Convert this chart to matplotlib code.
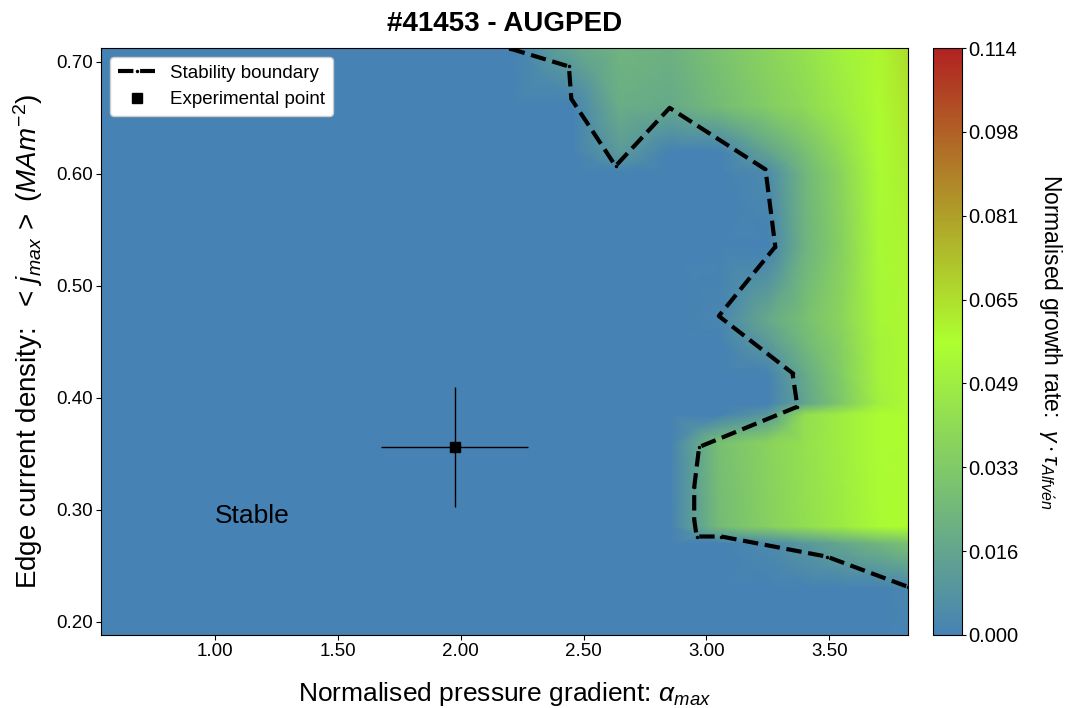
import numpy as np
import matplotlib
matplotlib.use('Agg')
import matplotlib.pyplot as plt
from matplotlib.colors import LinearSegmentedColormap, Normalize
from matplotlib.ticker import FormatStrFormatter

plt.rcParams['font.family'] = ['Liberation Sans', 'DejaVu Sans']
plt.rcParams['mathtext.fontset'] = 'custom'
plt.rcParams['mathtext.rm'] = 'Liberation Sans'
plt.rcParams['mathtext.it'] = 'Liberation Sans:italic'
plt.rcParams['mathtext.bf'] = 'Liberation Sans:bold'

# scan grid: normalised pressure gradient (alpha) and edge current density (j)
alpha_grid = [0.50, 2.20, 2.45, 2.65, 2.85, 3.05, 3.25, 3.40, 3.55, 3.70, 3.85]
j_grid = [0.18, 0.23, 0.27, 0.285, 0.36, 0.385, 0.395, 0.42, 0.45, 0.47, 0.535,
          0.60, 0.62, 0.66, 0.72]

# growth rate gamma * tau_A on the grid (rows = j, cols = alpha)
gamma_grid = [
    [0, 0, 0, 0, 0, 0, 0, 0, 0, 0, 0],
    [0, 0, 0, 0, 0, 0, 0, 0, 0, 0, 0.004],
    [0, 0, 0, 0, 0, 0, 0.004, 0.010, 0.017, 0.024, 0.030],
    [0, 0, 0, 0, 0, 0.026, 0.036, 0.042, 0.048, 0.055, 0.058],
    [0, 0, 0, 0, 0, 0.028, 0.037, 0.043, 0.049, 0.056, 0.058],
    [0, 0, 0, 0, 0, 0, 0.010, 0.042, 0.049, 0.056, 0.058],
    [0, 0, 0, 0, 0, 0, 0, 0.016, 0.032, 0.050, 0.057],
    [0, 0, 0, 0, 0, 0, 0, 0.018, 0.034, 0.052, 0.058],
    [0, 0, 0, 0, 0, 0, 0.012, 0.025, 0.036, 0.052, 0.058],
    [0, 0, 0, 0, 0, 0.002, 0.018, 0.028, 0.038, 0.053, 0.059],
    [0, 0, 0, 0, 0, 0, 0, 0.022, 0.036, 0.054, 0.060],
    [0, 0, 0, 0, 0, 0, 0.004, 0.024, 0.038, 0.055, 0.062],
    [0, 0, 0, 0.012, 0, 0, 0.016, 0.028, 0.041, 0.056, 0.063],
    [0, 0, 0, 0.020, 0.018, 0.026, 0.034, 0.040, 0.048, 0.058, 0.065],
    [0, 0, 0.018, 0.024, 0.022, 0.030, 0.038, 0.044, 0.051, 0.059, 0.068],
]
gamma_max = 0.114

# stability boundary
alpha_bound = [2.20, 2.44, 2.45, 2.63, 2.85, 3.24, 3.28, 3.05, 3.35, 3.37,
               2.97, 2.95, 2.95, 2.96, 3.06, 3.49, 3.82]
j_bound = [0.712, 0.696, 0.667, 0.607, 0.659, 0.604, 0.535, 0.473, 0.422, 0.392,
           0.356, 0.320, 0.291, 0.276, 0.276, 0.258, 0.231]

# experimental point
alpha_exp, j_exp = 1.975, 0.356
alpha_err, j_err = 0.30, 0.054

cmap = LinearSegmentedColormap.from_list('growth', ['steelblue', 'greenyellow', 'firebrick'])
norm = Normalize(vmin=0, vmax=gamma_max)

fig = plt.figure(figsize=(10.65, 7.08), dpi=100)
ax = fig.add_axes([101/1065, 73/708, 807/1065, 587/708])
cax = fig.add_axes([933/1065, 73/708, 29/1065, 587/708])

mesh = ax.pcolormesh(alpha_grid, j_grid, np.array(gamma_grid), shading='gouraud',
                     cmap=cmap, norm=norm)

ax.plot(alpha_bound, j_bound, color='k', ls='--', lw=3, marker='.', ms=3,
        label='Stability boundary')
ax.errorbar(alpha_exp, j_exp, xerr=alpha_err, yerr=j_err, fmt='none',
            ecolor='k', elinewidth=1)
ax.plot(alpha_exp, j_exp, 's', color='k', ms=7, ls='none', label='Experimental point')

ax.text(1.0, 0.288, 'Stable', fontsize=19)

ax.set_xlim(0.536, 3.82)
ax.set_ylim(0.188, 0.7125)
ax.set_xticks([1.0, 1.5, 2.0, 2.5, 3.0, 3.5])
ax.set_yticks([0.2, 0.3, 0.4, 0.5, 0.6, 0.7])
ax.xaxis.set_major_formatter(FormatStrFormatter('%.2f'))
ax.yaxis.set_major_formatter(FormatStrFormatter('%.2f'))
ax.tick_params(labelsize=13.5, length=3.5, pad=2.5)

ax.set_xlabel(r'Normalised pressure gradient: $\alpha_{max}$', fontsize=19, labelpad=14)
ax.set_ylabel(r'Edge current density:  $<\, j_{max} \,>\ (MAm^{-2})$', fontsize=20,
              labelpad=8)
ax.set_title('#41453 - AUGPED', fontsize=20, fontweight='bold', pad=12)

ax.legend(loc='upper left', fontsize=13.5, framealpha=1)

cb = fig.colorbar(mesh, cax=cax, ticks=np.linspace(0, gamma_max, 8))
cb.ax.yaxis.set_major_formatter(FormatStrFormatter('%.3f'))
cb.ax.tick_params(labelsize=14.5, length=3, pad=1.5)
cb.set_label(r'Normalised growth rate:  $\gamma \cdot \tau_{Alfv\acute{e}n}$',
             fontsize=16.5, rotation=270, labelpad=33)

fig.savefig('out.png', dpi=100)
